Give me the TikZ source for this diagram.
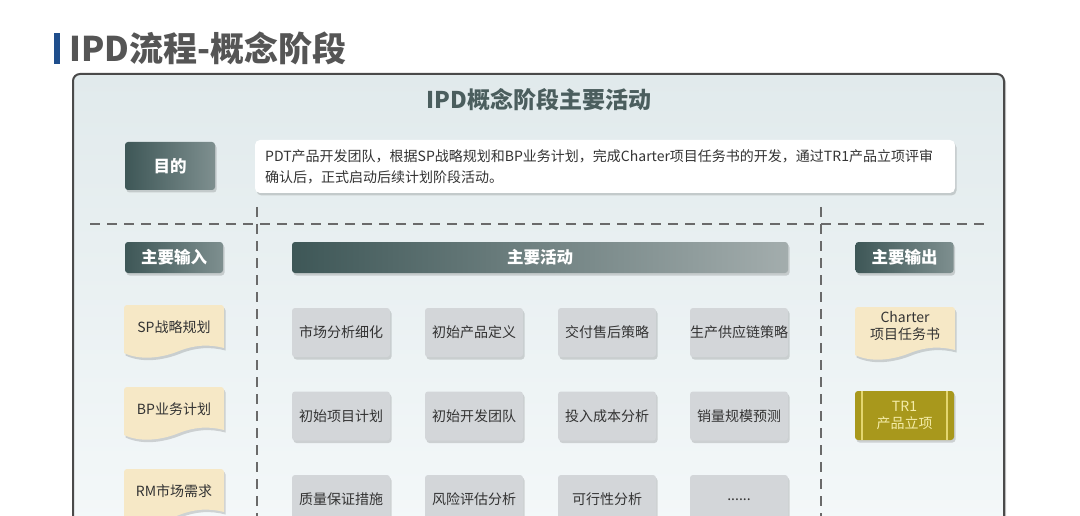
\documentclass[tikz,border=0pt]{standalone}
\usepackage{fontspec}
\setmainfont{Noto Sans CJK SC}
\usetikzlibrary{shadows}
\definecolor{hdrdark}{HTML}{3E5757}
\definecolor{hdrlight}{HTML}{7E8F8F}
\definecolor{barlight}{HTML}{A3ADAD}
\definecolor{actgray}{HTML}{D3D6D9}
\definecolor{docfill}{HTML}{F6E8C6}
\definecolor{olivefill}{HTML}{A8981C}
\definecolor{oliveline}{HTML}{E4D66E}
\definecolor{olivetext}{HTML}{F4ECA8}
\definecolor{txtdark}{HTML}{333333}
\definecolor{paneltop}{HTML}{E1EAEC}
\definecolor{panelbot}{HTML}{F5F9FA}
\definecolor{dashcol}{HTML}{6A6A6A}
\definecolor{titlegray}{HTML}{555555}
\definecolor{bluebar}{HTML}{1F4E8C}
\definecolor{ptitlecol}{HTML}{4B5E5E}
\definecolor{panelborder}{HTML}{4A4A4A}
\tikzset{
  softshadow/.style={drop shadow={opacity=0.15, shadow xshift=1.5pt, shadow yshift=-2.5pt, fill=black}},
  hdr/.style={rounded corners=3pt, left color=hdrdark, right color=hdrlight, text=white,
    font=\bfseries\fontsize{16.5}{19}\selectfont, minimum width=98pt, minimum height=31pt, inner sep=0pt, softshadow},
  act/.style={rounded corners=3pt, fill=actgray, text=txtdark, font=\fontsize{14}{16}\selectfont,
    minimum width=98pt, minimum height=49pt, inner sep=0pt, softshadow},
  doctext/.style={text=txtdark, font=\fontsize{14}{17}\selectfont, align=center, inner sep=0pt},
  docshape/.style={fill=docfill, softshadow},
  dashline/.style={draw=dashcol, line width=1.6pt, dash pattern=on 10pt off 7pt},
}
\newcommand\docnode[5]{% name, cx, cy, text offset, text
  \begin{scope}[shift={(#2,#3)}]
    \path[docshape] (-50,26) [rounded corners=3pt] -- (-50,-22) -- (50,-22) [sharp corners] -- (50,21)
      .. controls (35,17) and (20,18) .. (5,24) .. controls (-15,32) and (-35,33) .. (-50,26) -- cycle;
    \node[doctext] (#1) at (0,#4) {#5};
  \end{scope}}
\begin{document}
\begin{tikzpicture}[x=1pt,y=-1pt]
\clip (0,0) rectangle (1080,516);
\fill[white] (0,0) rectangle (1080,516);
% title
\node[fill=bluebar, minimum width=6pt, minimum height=31pt, inner sep=0pt] (bar) at (57,49) {};
\node[anchor=west, inner sep=0pt, text=titlegray, font=\bfseries\fontsize{34}{38}\selectfont] (title) at (69,48) {IPD流程-概念阶段};
% panel
\node[draw=panelborder, line width=2pt, rounded corners=7pt, top color=paneltop, bottom color=panelbot,
  minimum width=931pt, minimum height=486pt, inner sep=0pt,
  drop shadow={opacity=0.2, shadow xshift=2pt, shadow yshift=-2pt, fill=black}] (panel) at (538.5,317) {};
\node[text=ptitlecol, font=\bfseries\fontsize{23}{27}\selectfont, inner sep=0pt] (ptitle) at (539,100) {IPD概念阶段主要活动};
% purpose
\node[hdr, minimum width=90pt, minimum height=48pt] (goal) at (170,166) {目的};
\node[fill=white, rounded corners=5pt, minimum width=700pt, minimum height=53pt, inner sep=0pt, softshadow] (purpbox) at (605,166.5) {};
\node[anchor=west, align=left, inner sep=0pt, text=txtdark, font=\fontsize{14}{21}\selectfont] (purptext) at (265,167)
  {PDT产品开发团队，根据SP战略规划和BP业务计划，完成Charter项目任务书的开发，通过TR1产品立项评审\\确认后，正式启动后续计划阶段活动。};
% dashed separators
\coordinate (hl) at (90,224);
\coordinate (hr) at (985,224);
\coordinate (v1t) at (257,207);
\coordinate (v1b) at (257,530);
\coordinate (v2t) at (821,207);
\coordinate (v2b) at (821,530);
\draw[dashline] (hl) -- (hr);
\draw[dashline] (v1t) -- (v1b);
\draw[dashline] (v2t) -- (v2b);
% headers
\node[hdr] (inhdr) at (174,257.5) {主要输入};
\node[hdr, minimum width=496pt, left color=hdrdark, right color=barlight] (acthdr) at (540,257.5) {主要活动};
\node[hdr] (outhdr) at (904.5,257.5) {主要输出};
% inputs
\docnode{sp}{174}{327}{0}{SP战略规划}
\docnode{bp}{174}{409}{0}{BP业务计划}
\docnode{rm}{174}{491}{0}{RM市场需求}
% activities
\node[act] (a11) at (341,332.5) {市场分析细化};
\node[act] (a12) at (474,332.5) {初始产品定义};
\node[act] (a13) at (607,332.5) {交付售后策略};
\node[act] (a14) at (739,332.5) {生产供应链策略};
\node[act] (a21) at (341,416) {初始项目计划};
\node[act] (a22) at (474,416) {初始开发团队};
\node[act] (a23) at (607,416) {投入成本分析};
\node[act] (a24) at (739,416) {销量规模预测};
\node[act] (a31) at (341,499.5) {质量保证措施};
\node[act] (a32) at (474,499.5) {风险评估分析};
\node[act] (a33) at (607,499.5) {可行性分析};
\node[act] (a34) at (739,499.5) {......};
% outputs
\docnode{charter}{905}{329}{-3}{Charter\\项目任务书}
\node[rounded corners=3pt, fill=olivefill, minimum width=99pt, minimum height=49pt, inner sep=0pt, softshadow,
  text=olivetext, align=center, font=\fontsize{14}{17}\selectfont] (tr1) at (904.5,415.5) {TR1\\产品立项};
\draw[oliveline, line width=1.5pt] ([xshift=7pt]tr1.north west) -- ([xshift=7pt]tr1.south west);
\draw[oliveline, line width=1.5pt] ([xshift=-7pt]tr1.north east) -- ([xshift=-7pt]tr1.south east);
\end{tikzpicture}
\end{document}
